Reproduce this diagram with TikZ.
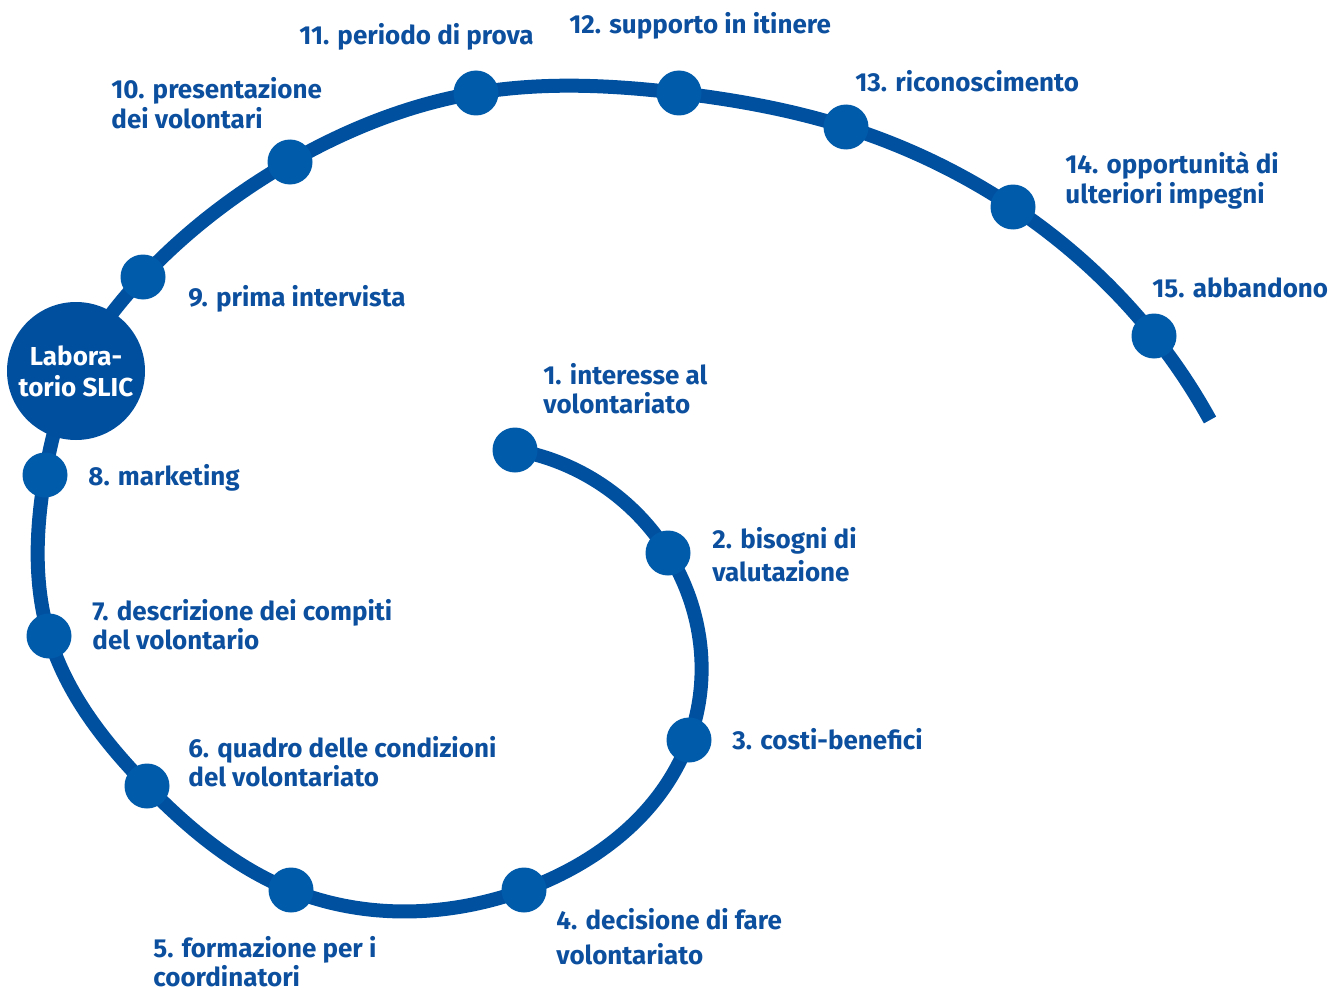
\documentclass[tikz,border=0pt]{standalone}
\usepackage{fontspec}
\setmainfont{Fira Sans}[BoldFont={Fira Sans Bold}]
\usetikzlibrary{hobby}
\definecolor{spiralblue}{HTML}{0050A0}
\definecolor{dotblue}{HTML}{005BAA}
\definecolor{hubblue}{HTML}{004E9E}
\definecolor{labelblue}{HTML}{0B4F9E}
\begin{document}
\begin{tikzpicture}[x=0.5pt,y=-0.5pt,
  spiral/.style={draw=spiralblue,line width=7pt,line cap=butt},
  stepdot/.style={circle,fill=dotblue,minimum size=22.5pt,inner sep=0pt},
  hub/.style={circle,fill=hubblue,minimum size=69pt,inner sep=0pt,text=white,
    font=\fontsize{13}{15.5}\selectfont\bfseries,align=center},
  lbl/.style={anchor=base west,inner sep=0pt,text=labelblue,align=left,
    font=\fontsize{13}{14.5}\selectfont\bfseries}]
\useasboundingbox (0,0) rectangle (1338,990);
% stops of the spiral
\coordinate (p1) at (515,450);
\coordinate (p2) at (668,553);
\coordinate (p3) at (689,740);
\coordinate (p4) at (524,890);
\coordinate (p5) at (291,890);
\coordinate (p6) at (147,786);
\coordinate (p7) at (49,636);
\coordinate (p8) at (45,475);
\coordinate (hc) at (76,371);
\coordinate (p9) at (143,277);
\coordinate (p10) at (290,162);
\coordinate (p11) at (476,93);
\coordinate (p12) at (679,93);
\coordinate (p13) at (846,127);
\coordinate (p14) at (1013,207);
\coordinate (p15) at (1154,336);
\coordinate (tail) at (1210,420);
% the spiral line
\draw[spiral,use Hobby shortcut] (p1) .. (p2) .. (p3) .. (p4) .. (p5) .. (p6) .. (p7) .. (p8) .. (hc) .. (p9) .. (p10) .. (p11) .. (p12) .. (p13) .. (p14) .. (p15) .. (tail);
% dots
\foreach \i in {1,...,15} \node[stepdot] (d\i) at (p\i) {};
\node[hub] (lab) at (hc) {Labora-\\torio SLIC};
% labels (anchored at the baseline of their last line)
\node[lbl] (t1) at (543,413) {1. interesse al\\volontariato};
\node[lbl,font=\fontsize{13}{16.5}\selectfont\bfseries] (t2) at (712,581) {2. bisogni di\\valutazione};
\node[lbl] (t3) at (732,749) {3. costi-benefici};
\node[lbl,font=\fontsize{13}{17.5}\selectfont\bfseries] (t4) at (556,964) {4. decisione di fare\\volontariato};
\node[lbl] (t5) at (153,986) {5. formazione per i\\coordinatori};
\node[lbl] (t6) at (188,786) {6. quadro delle condizioni\\del volontariato};
\node[lbl] (t7) at (92,649) {7. descrizione dei compiti\\del volontario};
\node[lbl] (t8) at (88,485) {8. marketing};
\node[lbl] (t9) at (188,306) {9. prima intervista};
\node[lbl] (t10) at (111,128) {10. presentazione\\dei volontari};
\node[lbl] (t11) at (299,45) {11. periodo di prova};
\node[lbl] (t12) at (569,34) {12. supporto in itinere};
\node[lbl] (t13) at (855,92) {13. riconoscimento};
\node[lbl,font=\fontsize{13}{15}\selectfont\bfseries] (t14) at (1065,203) {14. opportunità di\\ulteriori impegni};
\node[lbl] (t15) at (1152,297) {15. abbandono};
\end{tikzpicture}
\end{document}
